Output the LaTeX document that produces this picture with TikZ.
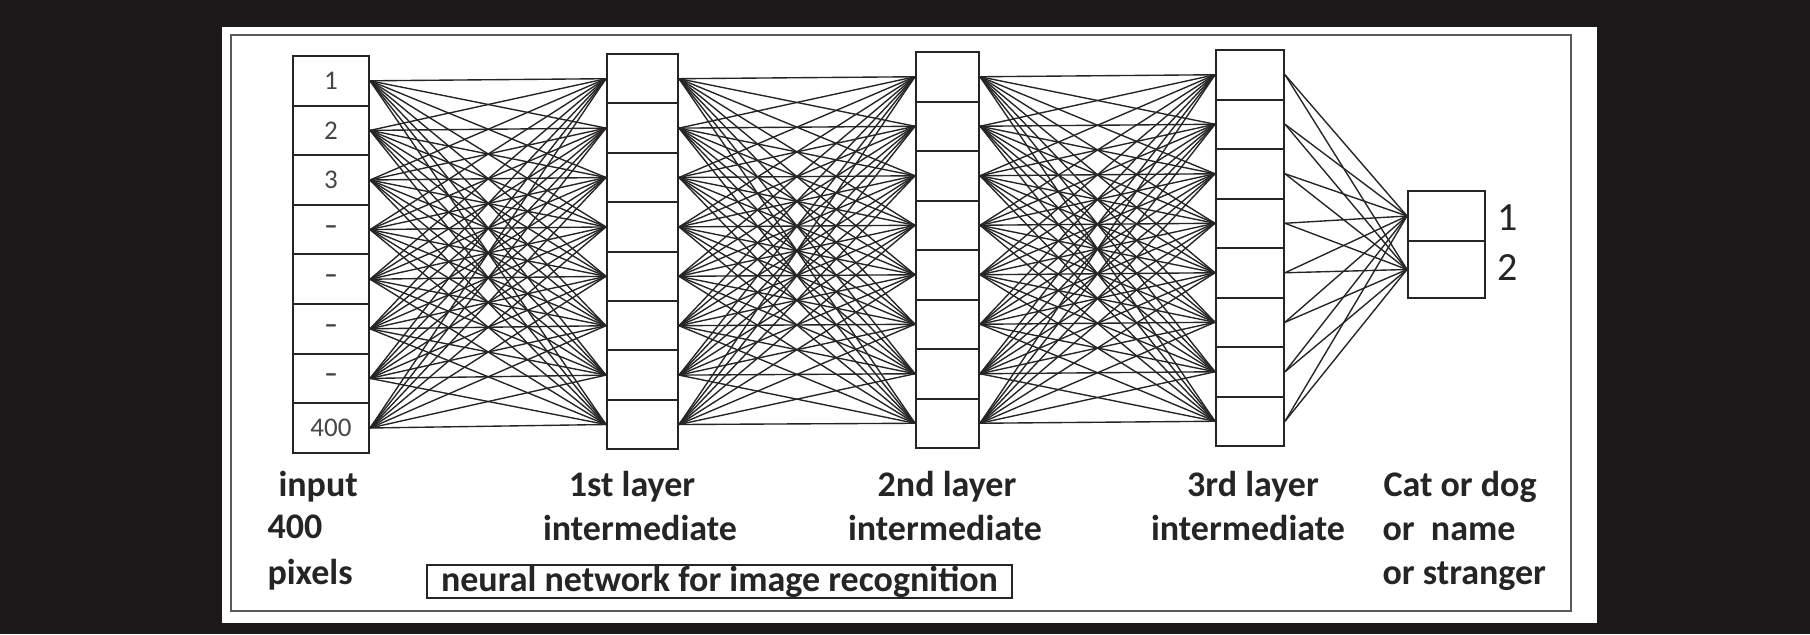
\documentclass[tikz,border=0pt]{standalone}
\usepackage{fontspec}
\setmainfont{Carlito}
\definecolor{bg}{RGB}{28,25,26}
\definecolor{ink}{RGB}{38,36,37}
\definecolor{frame}{RGB}{90,90,90}
\begin{document}
\begin{tikzpicture}[x=0.4pt,y=-0.4pt,
  cell/.style={draw=ink, line width=0.8pt, inner sep=0pt, anchor=north west, text=ink!85},
  edge/.style={draw=ink, line width=0.55pt},
  lbl/.style={anchor=base west, inner sep=0pt, text=ink, font=\bfseries\fontsize{14.4}{17}\selectfont},
  clbl/.style={anchor=base, inner sep=0pt, text=ink, font=\bfseries\fontsize{14.4}{17}\selectfont},
  small/.style={font=\fontsize{10.8}{12}\selectfont}]
\useasboundingbox (0,0) rectangle (1810,634);
\fill[bg] (0,0) rectangle (1810,634);
\fill[white] (222,27) rectangle (1597,623);
\draw[frame, line width=0.9pt] (231,35) rectangle (1571,611);
% input column
\foreach \i/\t in {1/1,2/2,3/3,4/{\bfseries --},5/{\bfseries --},6/{\bfseries --},7/{\bfseries --},8/400}{
  \node[cell, small, minimum width=76*0.4pt, minimum height=49.6*0.4pt] (in\i) at (292,{55+(\i-1)*49.6}) {\t\hspace{4pt}};
}
% hidden layers
\foreach \n/\x/\t/\w/\h in {a/606/53/71/49.4, b/915/51/63/49.5, c/1215/49/68/49.5}{
  \foreach \i in {1,...,8}{
    \node[cell, minimum width=\w*0.4pt, minimum height=\h*0.4pt] (\n\i) at (\x,{\t+(\i-1)*\h}) {};
  }
}
% output
\node[cell, minimum width=77*0.4pt, minimum height=50*0.4pt] (o1) at (1407,190) {};
\node[cell, minimum width=77*0.4pt, minimum height=57*0.4pt] (o2) at (1407,240) {};
\node[anchor=west, inner sep=0pt, text=ink, font=\fontsize{16}{18}\selectfont] (t1) at (1497,218) {1};
\node[anchor=west, inner sep=0pt, text=ink, font=\fontsize{16}{18}\selectfont] (t2) at (1497,268) {2};
% connections
\foreach \p/\q in {in/a,a/b,b/c}{
  \foreach \i in {1,...,8}{
    \foreach \j in {1,...,8}{
      \draw[edge] (\p\i.east) -- (\q\j.west);
    }
  }
}
\foreach \i in {1,...,8}{
  \foreach \j in {1,2}{
    \draw[edge] (c\i.east) -- (o\j.west);
  }
}
% labels
\node[lbl] (l1) at (278,496) {input};
\node[lbl] (l2) at (267,538) {400};
\node[lbl] (l3) at (267,584) {pixels};
\node[clbl] (m1) at (632,496) {1st layer};
\node[clbl] (m2) at (640,540) {intermediate};
\node[clbl] (n1) at (947,496) {2nd layer};
\node[clbl] (n2) at (945,540) {intermediate};
\node[clbl] (p1) at (1253,496) {3rd layer};
\node[clbl] (p2) at (1248,540) {intermediate};
\node[lbl] (q1) at (1383,496) {Cat or dog};
\node[lbl] (q2) at (1382,540) {or\ \ name};
\node[lbl] (q3) at (1382,584) {or stranger};
\node[draw=ink, line width=0.7pt, inner sep=0pt, minimum width=585*0.4pt, minimum height=33*0.4pt, text=ink, font=\bfseries\fontsize{14.4}{17}\selectfont] (cap) at (719.5,581.5) {neural network for image recognition};
\end{tikzpicture}
\end{document}
